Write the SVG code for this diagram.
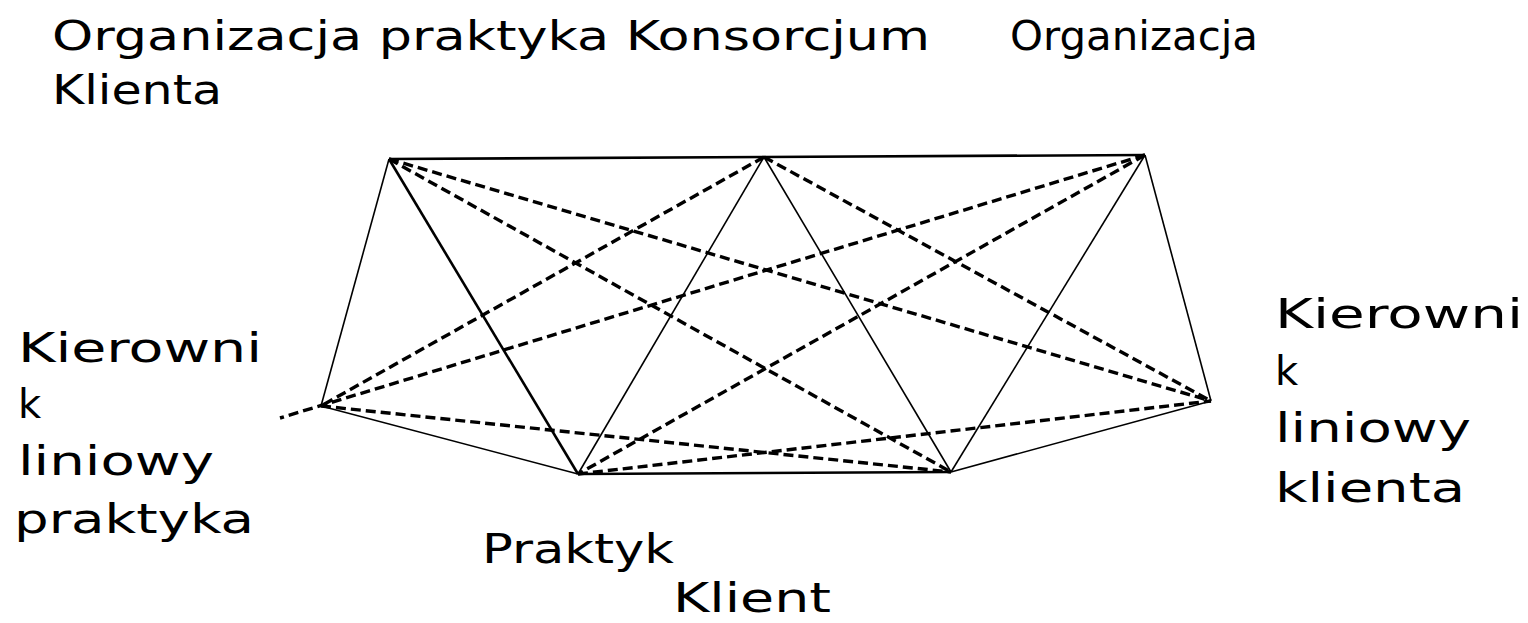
<svg xmlns="http://www.w3.org/2000/svg" width="1528" height="623" viewBox="0 0 1528 623">
<style>
.lbl{font-family:"DejaVu Sans","Liberation Sans",sans-serif;font-size:40px;fill:#000}
.thick{stroke:#000;stroke-width:2.6;fill:none}
.thin{stroke:#000;stroke-width:1.6;fill:none}
.dash{stroke:#000;stroke-width:3.4;fill:none;stroke-dasharray:10 5}
</style>
<rect width="1528" height="623" fill="#fff"/>
<g id="connectors">
<line class="thick" x1="389" y1="159" x2="764" y2="157"/>
<line class="thick" x1="764" y1="157" x2="1145" y2="155"/>
<line class="thick" x1="578" y1="474" x2="951" y2="472"/>
<line class="thick" x1="389" y1="159" x2="578" y2="474"/>
<line class="thin" x1="389" y1="159" x2="321" y2="406"/>
<line class="thin" x1="764" y1="157" x2="578" y2="474"/>
<line class="thin" x1="764" y1="157" x2="951" y2="472"/>
<line class="thin" x1="1145" y1="155" x2="951" y2="472"/>
<line class="thin" x1="1145" y1="155" x2="1211" y2="401"/>
<line class="thin" x1="321" y1="406" x2="578" y2="474"/>
<line class="thin" x1="951" y1="472" x2="1211" y2="401"/>
<line class="dash" x1="389" y1="159" x2="951" y2="472"/>
<line class="dash" x1="389" y1="159" x2="1211" y2="401"/>
<line class="dash" x1="764" y1="157" x2="321" y2="406"/>
<line class="dash" x1="764" y1="157" x2="1211" y2="401"/>
<line class="dash" x1="1145" y1="155" x2="280" y2="418"/>
<line class="dash" x1="1145" y1="155" x2="578" y2="474"/>
<line class="dash" x1="321" y1="406" x2="951" y2="472"/>
<line class="dash" x1="578" y1="474" x2="1211" y2="401"/>
</g>
<g id="node-top-labels">
<text class="lbl" x="52" y="50" textLength="878" lengthAdjust="spacingAndGlyphs">Organizacja praktyka Konsorcjum</text>
<text class="lbl" x="1010" y="50" textLength="248" lengthAdjust="spacingAndGlyphs">Organizacja</text>
<text class="lbl" x="52" y="104" textLength="170" lengthAdjust="spacingAndGlyphs">Klienta</text>
</g>
<g id="node-kierownik-praktyka">
<text class="lbl" x="18" y="362" textLength="244" lengthAdjust="spacingAndGlyphs">Kierowni</text>
<text class="lbl" x="18" y="418">k</text>
<text class="lbl" x="18" y="475" textLength="196" lengthAdjust="spacingAndGlyphs">liniowy</text>
<text class="lbl" x="14" y="533" textLength="240" lengthAdjust="spacingAndGlyphs">praktyka</text>
</g>
<g id="node-kierownik-klienta">
<text class="lbl" x="1275" y="328" textLength="248" lengthAdjust="spacingAndGlyphs">Kierowni</text>
<text class="lbl" x="1275" y="385">k</text>
<text class="lbl" x="1275" y="442" textLength="196" lengthAdjust="spacingAndGlyphs">liniowy</text>
<text class="lbl" x="1275" y="502" textLength="190" lengthAdjust="spacingAndGlyphs">klienta</text>
</g>
<g id="node-praktyk">
<text class="lbl" x="482" y="563" textLength="192" lengthAdjust="spacingAndGlyphs">Praktyk</text>
</g>
<g id="node-klient">
<text class="lbl" x="673" y="612" textLength="158" lengthAdjust="spacingAndGlyphs">Klient</text>
</g>
</svg>
